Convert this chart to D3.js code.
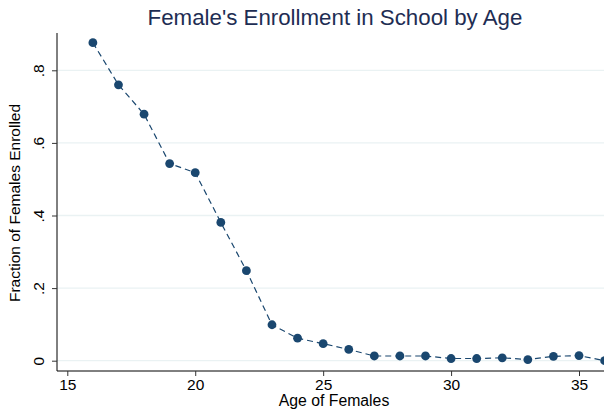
<!DOCTYPE html>
<html lang="en">
<head>
    <meta charset="UTF-8">
    <title>Female's Enrollment in School by Age</title>
    <script src="https://d3js.org/d3.v7.min.js"></script>
    <style>
        body { margin: 0; background: #fff; }
        text { font-family: "Liberation Sans", Arial, sans-serif; }
    </style>
</head>
<body>
    <svg width="604" height="413"></svg>
    <script>
        const width = 604, height = 413;

        // Data
        const ages = [16, 17, 18, 19, 20, 21, 22, 23, 24, 25, 26, 27, 28, 29, 30, 31, 32, 33, 34, 35, 36];
        const enrolled = [0.876, 0.760, 0.679, 0.543, 0.518, 0.381, 0.248, 0.099, 0.062, 0.047, 0.031,
                          0.013, 0.013, 0.013, 0.006, 0.006, 0.008, 0.003, 0.012, 0.014, 0.000];
        const xTicks = [15, 20, 25, 30, 35];
        const yTicks = [0, 0.2, 0.4, 0.6, 0.8];

        const navy = "#1a476f";
        const plotLeft = 57, plotRight = 604.5, plotTop = 33, plotBottom = 371;

        const x = d3.scaleLinear().domain([15, 36]).range([67.3, 604.6]);
        const y = d3.scaleLinear().domain([0, 0.8]).range([360.7, 70.3]);

        const svg = d3.select("svg");

        // Gridlines
        svg.append("g")
            .selectAll("line")
            .data(yTicks)
            .join("line")
            .attr("x1", plotLeft).attr("x2", plotRight)
            .attr("y1", d => y(d)).attr("y2", d => y(d))
            .attr("stroke", "#eaf2f3")
            .attr("stroke-width", 1.3);

        // Line and points
        const data = ages.map((a, i) => [a, enrolled[i]]);
        svg.append("path")
            .datum(data)
            .attr("d", d3.line().x(d => x(d[0])).y(d => y(d[1])))
            .attr("fill", "none")
            .attr("stroke", navy)
            .attr("stroke-width", 1.2)
            .attr("stroke-dasharray", "6,4");

        svg.append("g")
            .selectAll("circle")
            .data(data)
            .join("circle")
            .attr("cx", d => x(d[0]))
            .attr("cy", d => y(d[1]))
            .attr("r", 4.4)
            .attr("fill", navy);

        // Axes
        const xAxis = svg.append("g")
            .attr("transform", `translate(0,${plotBottom})`)
            .call(d3.axisBottom(x).tickValues(xTicks).tickSize(5).tickPadding(3).tickFormat(d3.format("d")));
        xAxis.select(".domain").attr("d", `M${plotLeft},0H${plotRight}`).attr("stroke", "#000");
        xAxis.selectAll(".tick line").attr("stroke", "#333");
        xAxis.selectAll(".tick text").attr("font-size", 15.5).attr("fill", "#000");

        const yAxis = svg.append("g")
            .attr("transform", `translate(${plotLeft},0)`)
            .call(d3.axisLeft(y).tickValues(yTicks).tickSize(5)
                .tickFormat(d => d === 0 ? "0" : d3.format(".1f")(d).replace(/^0/, "")));
        yAxis.select(".domain").attr("d", `M0,${plotTop}V${plotBottom}`).attr("stroke", "#000");
        yAxis.selectAll(".tick line").attr("stroke", "#333");
        yAxis.selectAll(".tick text")
            .attr("font-size", 15.5).attr("fill", "#000")
            .attr("x", null).attr("dy", null)
            .attr("text-anchor", "middle")
            .attr("transform", "translate(-13,0) rotate(-90)");

        // Titles
        svg.append("text")
            .attr("x", 335).attr("y", 25)
            .attr("text-anchor", "middle")
            .attr("font-size", 22.3)
            .attr("fill", "#1e2d53")
            .text("Female's Enrollment in School by Age");

        svg.append("text")
            .attr("x", 334).attr("y", 406)
            .attr("text-anchor", "middle")
            .attr("font-size", 15.8)
            .text("Age of Females");

        svg.append("text")
            .attr("transform", "translate(20,203) rotate(-90)")
            .attr("text-anchor", "middle")
            .attr("font-size", 15.5)
            .text("Fraction of Females Enrolled");
    </script>
</body>
</html>
